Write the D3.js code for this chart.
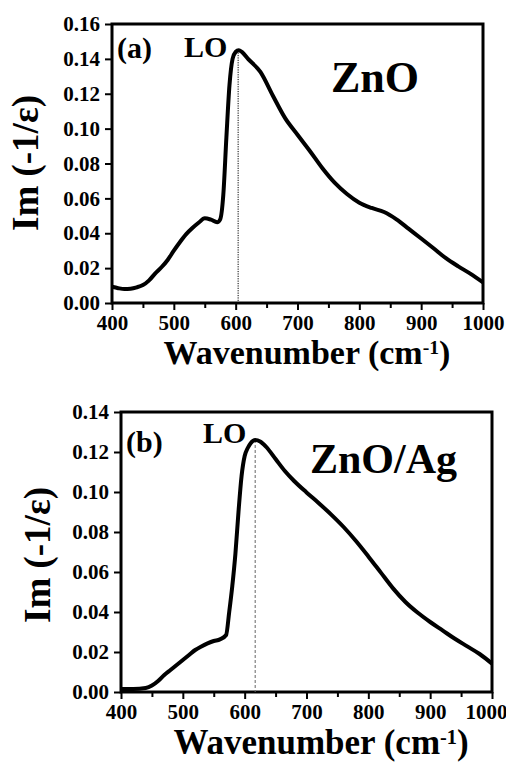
<!DOCTYPE html>
<html>
<head>
<meta charset="utf-8">
<script src="https://cdn.jsdelivr.net/npm/d3@7"></script>
<style>
  body { margin: 0; background: #fff; }
</style>
</head>
<body>
<div id="chart"></div>
<script>
// data
const wnZnO = [400,410,420,430,440,450,460,470,480,490,500,510,520,530,540,550,560,570,575,580,585,590,595,600,605,610,620,640,660,680,700,720,740,760,780,800,820,840,860,880,900,920,940,960,980,1000];
const lossZnO = [0.0093,0.0085,0.0080,0.0082,0.0090,0.0103,0.0130,0.0170,0.0205,0.0247,0.0300,0.0350,0.0395,0.0430,0.0460,0.0486,0.0478,0.0463,0.0480,0.0620,0.0950,0.1250,0.1400,0.1440,0.1450,0.1440,0.1400,0.1325,0.1190,0.1060,0.0965,0.0872,0.0774,0.0690,0.0625,0.0575,0.0545,0.0522,0.0480,0.0425,0.0370,0.0314,0.0257,0.0210,0.0167,0.0118];

const wnAg = [400,420,440,450,460,470,480,490,500,510,520,530,540,550,560,570,575,580,585,590,595,600,605,610,617,625,635,650,665,680,700,720,740,760,780,800,820,840,860,880,900,920,940,960,980,1000];
const lossAg = [0.0015,0.0015,0.0020,0.0032,0.0055,0.0085,0.0110,0.0135,0.0160,0.0185,0.0210,0.0228,0.0243,0.0255,0.0263,0.0285,0.0400,0.0530,0.0690,0.0900,0.1080,0.1180,0.1220,0.1245,0.1260,0.1253,0.1225,0.1165,0.1105,0.1055,0.0998,0.0944,0.0887,0.0825,0.0755,0.0678,0.0598,0.0518,0.0450,0.0396,0.0350,0.0308,0.0266,0.0228,0.0190,0.0142];

const xTicks = [400,500,600,700,800,900,1000];
const xMinor = [450,550,650,750,850,950];
const yTicksA = [0,0.02,0.04,0.06,0.08,0.10,0.12,0.14,0.16];
const yTicksB = [0,0.02,0.04,0.06,0.08,0.10,0.12,0.14];

const FONT = "Liberation Serif";

const svg = d3.select("#chart").append("svg")
  .attr("width", 506)
  .attr("height", 762);

// every text gets the serif face set as a style
function serif(sel, size) {
  return sel.style("font-family", FONT).style("font-weight", "bold")
    .style("font-size", size + "px").attr("fill", "#000");
}

function panel(o) {
  const x = d3.scaleLinear().domain([400, 1000]).range([o.left, o.right]);
  const y = d3.scaleLinear().domain([0, o.ymax]).range([o.bottom, o.top]);
  const g = svg.append("g");

  // minor x ticks
  g.append("g")
    .attr("transform", "translate(0," + o.bottom + ")")
    .call(d3.axisBottom(x).tickValues(xMinor).tickSize(5).tickFormat(""))
    .call(a => a.select(".domain").remove())
    .call(a => a.selectAll("line").attr("stroke-width", 2));

  // x axis
  g.append("g")
    .attr("transform", "translate(0," + o.bottom + ")")
    .call(d3.axisBottom(x).tickValues(xTicks).tickSize(7).tickSizeOuter(0).tickPadding(4)
      .tickFormat(d3.format("d")))
    .call(a => a.select(".domain").remove())
    .call(a => a.selectAll("line").attr("stroke-width", 2))
    .call(a => serif(a.selectAll("text"), 21).attr("dy", "0.75em")
      .attr("dx", d => d === 1000 ? o.lastDx : 0));

  // y axis
  g.append("g")
    .attr("transform", "translate(" + o.left + ",0)")
    .call(d3.axisLeft(y).tickValues(o.yTicks).tickSize(7).tickSizeOuter(0).tickPadding(5)
      .tickFormat(d3.format(".2f")))
    .call(a => a.select(".domain").remove())
    .call(a => a.selectAll("line").attr("stroke-width", 2))
    .call(a => serif(a.selectAll("text"), 21));

  // frame
  g.append("rect")
    .attr("x", o.left).attr("y", o.top)
    .attr("width", o.right - o.left).attr("height", o.bottom - o.top)
    .attr("fill", "none").attr("stroke", "#000").attr("stroke-width", 3);

  // LO marker line
  const pk = d3.scan(o.ys, (a, b) => b - a);
  g.append("line")
    .attr("x1", x(o.loX)).attr("x2", x(o.loX))
    .attr("y1", y(o.ys[pk])).attr("y2", o.bottom)
    .attr("stroke", o.loColor).attr("stroke-width", 1)
    .attr("stroke-dasharray", o.loDash);

  // curve
  const line = d3.line()
    .x((d, i) => x(o.xs[i]))
    .y(d => y(d))
    .curve(d3.curveMonotoneX);
  g.append("path")
    .attr("d", line(o.ys))
    .attr("fill", "none").attr("stroke", "#000")
    .attr("stroke-width", 4).attr("stroke-linejoin", "round");

  // labels
  serif(g.append("text"), 30).attr("x", o.tagX).attr("y", o.tagY).text(o.tag);
  serif(g.append("text"), 30).attr("x", o.loTX).attr("y", o.loTY).text("LO");
  serif(g.append("text"), o.nameSize).attr("x", o.nameX).attr("y", o.nameY).text(o.name);

  serif(g.append("text"), 37)
    .attr("text-anchor", "middle")
    .attr("transform", "translate(" + o.ylx + "," + o.yly + ")rotate(-90)")
    .text("Im (-1/ε)");

  const xl = serif(g.append("text"), o.xlSize)
    .attr("text-anchor", "middle")
    .attr("x", o.xlx).attr("y", o.xly)
    .text("Wavenumber (cm");
  xl.append("tspan").attr("dy", -o.xlSize * 0.3)
    .style("font-size", (o.xlSize * 0.58) + "px").text("-1");
  xl.append("tspan").attr("dy", o.xlSize * 0.3).text(")");
}

panel({
  left: 112, right: 483, top: 24, bottom: 303, ymax: 0.16, yTicks: yTicksA,
  xs: wnZnO, ys: lossZnO, loX: 604, loColor: "#000", loDash: "1.2,1.2",
  tag: "(a)", tagX: 117, tagY: 58, loTX: 184, loTY: 57,
  name: "ZnO", nameX: 331, nameY: 92, nameSize: 44,
  ylx: 38, yly: 163, xlx: 307, xly: 364, xlSize: 34, lastDx: 0
});

panel({
  left: 121, right: 492, top: 412, bottom: 692, ymax: 0.14, yTicks: yTicksB,
  xs: wnAg, ys: lossAg, loX: 617, loColor: "#666", loDash: "3,2",
  tag: "(b)", tagX: 126, tagY: 452, loTX: 203, loTY: 443,
  name: "ZnO/Ag", nameX: 310, nameY: 473, nameSize: 42,
  ylx: 50, yly: 555, xlx: 321, xly: 754, xlSize: 35, lastDx: -6
});
</script>
</body>
</html>
